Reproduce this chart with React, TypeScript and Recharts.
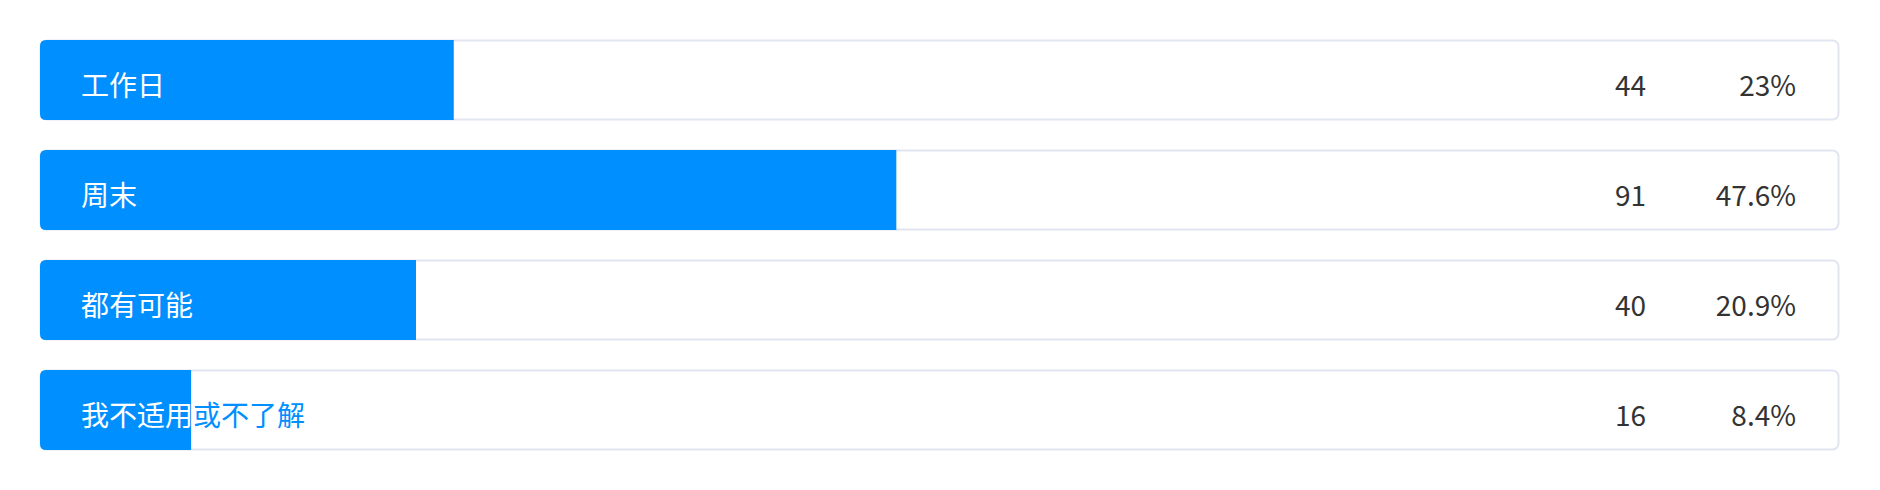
import React from "react";
import { BarChart, Bar, XAxis, YAxis } from "recharts";

const categories = ["工作日", "周末", "都有可能", "我不适用或不了解"];
const counts = [44, 91, 40, 16];
const percents = [23, 47.6, 20.9, 8.4];

const BLUE = "#008ffe";
const BORDER = "#e1e5f2";
const FONT = '"Noto Sans CJK SC", "Noto Sans", sans-serif';

const data = categories.map((name, i) => ({
  name,
  count: counts[i],
  percent: percents[i],
}));

// grey outlined track plus the count / percent on the right
const Track = (props: any) => {
  const { x, y, width, height, index } = props;
  const right = x + width;
  const base = y + height / 2 + 16;
  return (
    <g>
      <rect
        x={x + 0.5}
        y={y + 0.5}
        width={width - 1}
        height={height - 1}
        rx={6}
        ry={6}
        fill="#fff"
        stroke={BORDER}
        strokeWidth={2}
      />
      <text x={right - 193} y={base} textAnchor="end" fontSize={28} fill="#333" fontFamily={FONT}>
        {counts[index]}
      </text>
      <text x={right - 43} y={base} textAnchor="end" fontSize={28} fill="#333" fontFamily={FONT}>
        {percents[index] + "%"}
      </text>
    </g>
  );
};

// filled bar, label is blue outside the bar and white inside it
const Fill = (props: any) => {
  const { x, y, width, height, index } = props;
  const r = 6;
  const d = `M${x + r},${y} H${x + width} V${y + height} H${x + r} Q${x},${y + height} ${x},${y + height - r} V${y + r} Q${x},${y} ${x + r},${y} Z`;
  const tx = x + 41;
  const ty = y + height / 2 + 16;
  const id = `clip-bar-${index}`;
  return (
    <g>
      <defs>
        <clipPath id={id}>
          <path d={d} />
        </clipPath>
      </defs>
      <path d={d} fill={BLUE} />
      <text x={tx} y={ty} fontSize={28} fill={BLUE} fontFamily={FONT}>
        {categories[index]}
      </text>
      <text x={tx} y={ty} fontSize={28} fill="#fff" fontFamily={FONT} clipPath={`url(#${id})`}>
        {categories[index]}
      </text>
    </g>
  );
};

export default function App() {
  return (
    <BarChart
      width={1864}
      height={474}
      data={data}
      layout="vertical"
      margin={{ top: 17, right: 33, bottom: 17, left: 32 }}
      barSize={80}
    >
      <XAxis type="number" domain={[0, 100]} hide />
      <YAxis type="category" dataKey="name" hide />
      <Bar
        dataKey="percent"
        isAnimationActive={false}
        background={(p: any) => <Track key={`bg-${p.index}`} {...p} />}
        shape={(p: any) => <Fill {...p} />}
      />
    </BarChart>
  );
}
